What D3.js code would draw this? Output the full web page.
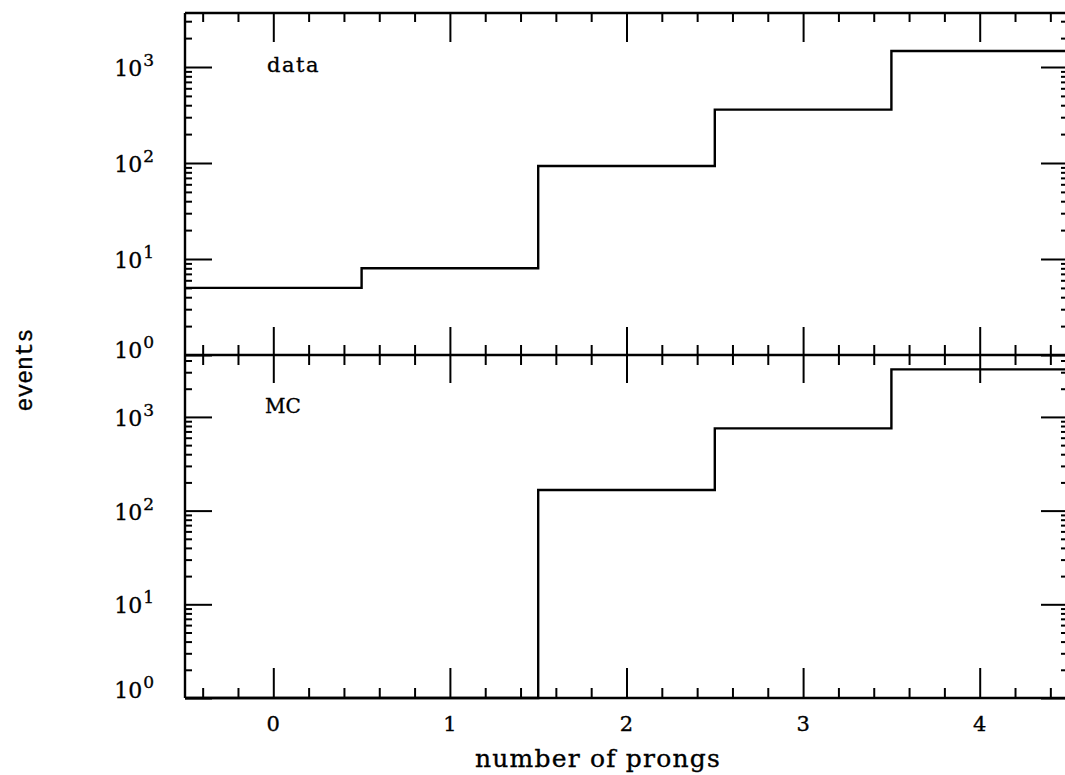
<!DOCTYPE html>
<html>
<head>
<meta charset="utf-8">
<script src="https://cdn.jsdelivr.net/npm/d3@7"></script>
<style>
    html, body { margin: 0; padding: 0; background: #fff; }
    svg { display: block; }
    text { stroke: #000; stroke-width: 0.35px; }
</style>
</head>
<body>
<div id="chart"></div>
<script>
// bins: number of prongs
const binCenters = [0, 1, 2, 3, 4];
// events per bin
const dataCounts = [5, 8, 93, 360, 1470];
const mcCounts = [0, 0, 166, 755, 3220];
const xTickLabels = ['0', '1', '2', '3', '4'];
const yDecades = [0, 1, 2, 3];
const panelNames = ['data', 'MC'];

const WIDTH = 1065;
const HEIGHT = 775;

window.addEventListener('load', function() {
    drawChart(document.getElementById('chart'));
});

function minorValues(start, stop, step, skip) {
    var vals = [];
    for (var v = start; v <= stop + 1e-9; v += step) {
        var r = Math.round(v * 10) / 10;
        if (skip.indexOf(r) === -1) vals.push(r);
    }
    return vals;
}

function logMinors(maxVal) {
    var vals = [];
    for (var d = 0; d < 4; ++d) {
        for (var m = 2; m <= 9; ++m) {
            var v = m * Math.pow(10, d);
            if (v <= maxVal) vals.push(v);
        }
    }
    return vals;
}

function drawChart(container) {
    const svg = d3.select(container)
        .append('svg')
        .attr('width', WIDTH)
        .attr('height', HEIGHT);

    const left = 185, right = 1068;
    const top = 13, mid = 355, bottom = 698;

    const x = d3.scaleLinear().domain([-0.5, 4.5]).range([left, right]);
    // the two panels have slightly different decade sizes
    const yTop = d3.scaleLog().domain([1, 3652]).range([mid, top]);
    const yBot = d3.scaleLog().domain([1, 4580]).range([bottom, mid]);

    const xMajor = binCenters;
    const xMinor = minorValues(-0.4, 4.4, 0.2, xMajor);

    function clean(g) {
        g.select('.domain').remove();
        g.selectAll('text').remove();
        g.selectAll('line').attr('stroke', '#000').attr('stroke-width', 2);
    }

    // x ticks: top border (inward), middle line (both sides), bottom (inward)
    svg.append('g').attr('transform', 'translate(0,' + top + ')')
        .call(d3.axisTop(x).tickValues(xMajor).tickSize(-29).tickSizeOuter(0)).call(clean);
    svg.append('g').attr('transform', 'translate(0,' + top + ')')
        .call(d3.axisTop(x).tickValues(xMinor).tickSize(-9).tickSizeOuter(0)).call(clean);

    svg.append('g').attr('transform', 'translate(0,' + mid + ')')
        .call(d3.axisTop(x).tickValues(xMajor).tickSize(28).tickSizeOuter(0)).call(clean);
    svg.append('g').attr('transform', 'translate(0,' + mid + ')')
        .call(d3.axisBottom(x).tickValues(xMajor).tickSize(28).tickSizeOuter(0)).call(clean);
    svg.append('g').attr('transform', 'translate(0,' + mid + ')')
        .call(d3.axisTop(x).tickValues(xMinor).tickSize(10).tickSizeOuter(0)).call(clean);
    svg.append('g').attr('transform', 'translate(0,' + mid + ')')
        .call(d3.axisBottom(x).tickValues(xMinor).tickSize(10).tickSizeOuter(0)).call(clean);

    svg.append('g').attr('transform', 'translate(0,' + bottom + ')')
        .call(d3.axisBottom(x).tickValues(xMajor).tickSize(-30).tickSizeOuter(0)).call(clean);
    svg.append('g').attr('transform', 'translate(0,' + bottom + ')')
        .call(d3.axisBottom(x).tickValues(xMinor).tickSize(-10).tickSizeOuter(0)).call(clean);

    // y ticks, left and right, for both panels
    [yTop, yBot].forEach(function(y) {
        const majors = yDecades.map(function(p) { return Math.pow(10, p); });
        const minors = logMinors(y.domain()[1]);
        svg.append('g').attr('transform', 'translate(' + left + ',0)')
            .call(d3.axisLeft(y).tickValues(majors).tickSize(-27).tickSizeOuter(0)).call(clean);
        svg.append('g').attr('transform', 'translate(' + left + ',0)')
            .call(d3.axisLeft(y).tickValues(minors).tickSize(-7).tickSizeOuter(0)).call(clean);
        svg.append('g').attr('transform', 'translate(' + right + ',0)')
            .call(d3.axisRight(y).tickValues(majors).tickSize(-27).tickSizeOuter(0)).call(clean);
        svg.append('g').attr('transform', 'translate(' + right + ',0)')
            .call(d3.axisRight(y).tickValues(minors).tickSize(-7).tickSizeOuter(0)).call(clean);

        //標籤 10^n
        const labels = svg.append('g')
            .attr('font-family', '"DejaVu Serif", serif')
            .attr('fill', '#000');
        yDecades.forEach(function(p) {
            const ty = y(Math.pow(10, p));
            const t = labels.append('text')
                .attr('x', 154)
                .attr('y', ty + (p === 0 ? (y === yTop ? 3 : 0) : 9))
                .attr('text-anchor', 'end')
                .attr('font-size', 22)
                .text('10');
            t.append('tspan')
                .attr('dy', -10)
                .attr('dx', 1)
                .attr('font-size', 17)
                .text(String(p));
        });
    });

    // frame
    const frame = svg.append('g')
        .attr('stroke', '#000')
        .attr('stroke-width', 2.4)
        .attr('fill', 'none');
    frame.append('line').attr('x1', left).attr('x2', right).attr('y1', top).attr('y2', top);
    frame.append('line').attr('x1', left).attr('x2', right).attr('y1', mid).attr('y2', mid);
    frame.append('line').attr('x1', left).attr('x2', right).attr('y1', bottom).attr('y2', bottom);
    frame.append('line').attr('x1', left).attr('x2', left).attr('y1', top).attr('y2', bottom);
    frame.append('line').attr('x1', right).attr('x2', right).attr('y1', top).attr('y2', bottom);

    // histograms as steps
    function stepPoints(counts, y) {
        const floor = y.domain()[0];
        var pts = [];
        binCenters.forEach(function(c, i) {
            const v = Math.max(counts[i], floor);
            pts.push([c - 0.5, v]);
            pts.push([c + 0.5, v]);
        });
        return pts;
    }
    [[dataCounts, yTop], [mcCounts, yBot]].forEach(function(pair) {
        const y = pair[1];
        const line = d3.line()
            .x(function(d) { return x(d[0]); })
            .y(function(d) { return y(d[1]); });
        svg.append('path')
            .attr('d', line(stepPoints(pair[0], y)))
            .attr('fill', 'none')
            .attr('stroke', '#000')
            .attr('stroke-width', 2.4);
    });

    // x tick labels
    svg.append('g')
        .selectAll('text')
        .data(xMajor)
        .enter()
        .append('text')
        .attr('x', function(d) { return x(d); })
        .attr('y', 731)
        .attr('text-anchor', 'middle')
        .attr('font-family', '"DejaVu Serif", serif')
        .attr('font-size', 21)
        .text(function(d, i) { return xTickLabels[i]; });

    // panel names
    svg.append('text')
        .attr('x', 267).attr('y', 72)
        .attr('font-family', '"DejaVu Serif", serif')
        .attr('font-size', 21)
        .attr('letter-spacing', 1.5)
        .text(panelNames[0]);
    svg.append('text')
        .attr('x', 265).attr('y', 413)
        .attr('font-family', '"DejaVu Serif", serif')
        .attr('font-size', 20)
        .text(panelNames[1]);

    // axis titles
    svg.append('text')
        .attr('x', 598).attr('y', 767)
        .attr('text-anchor', 'middle')
        .attr('font-family', '"DejaVu Serif", serif')
        .attr('font-size', 25)
        .attr('letter-spacing', 1.2)
        .text('number of prongs');
    svg.append('text')
        .attr('transform', 'translate(32,370) rotate(-90)')
        .attr('text-anchor', 'middle')
        .attr('font-family', '"Liberation Mono", monospace')
        .attr('font-size', 23)
        .text('events');
}
</script>
</body>
</html>
